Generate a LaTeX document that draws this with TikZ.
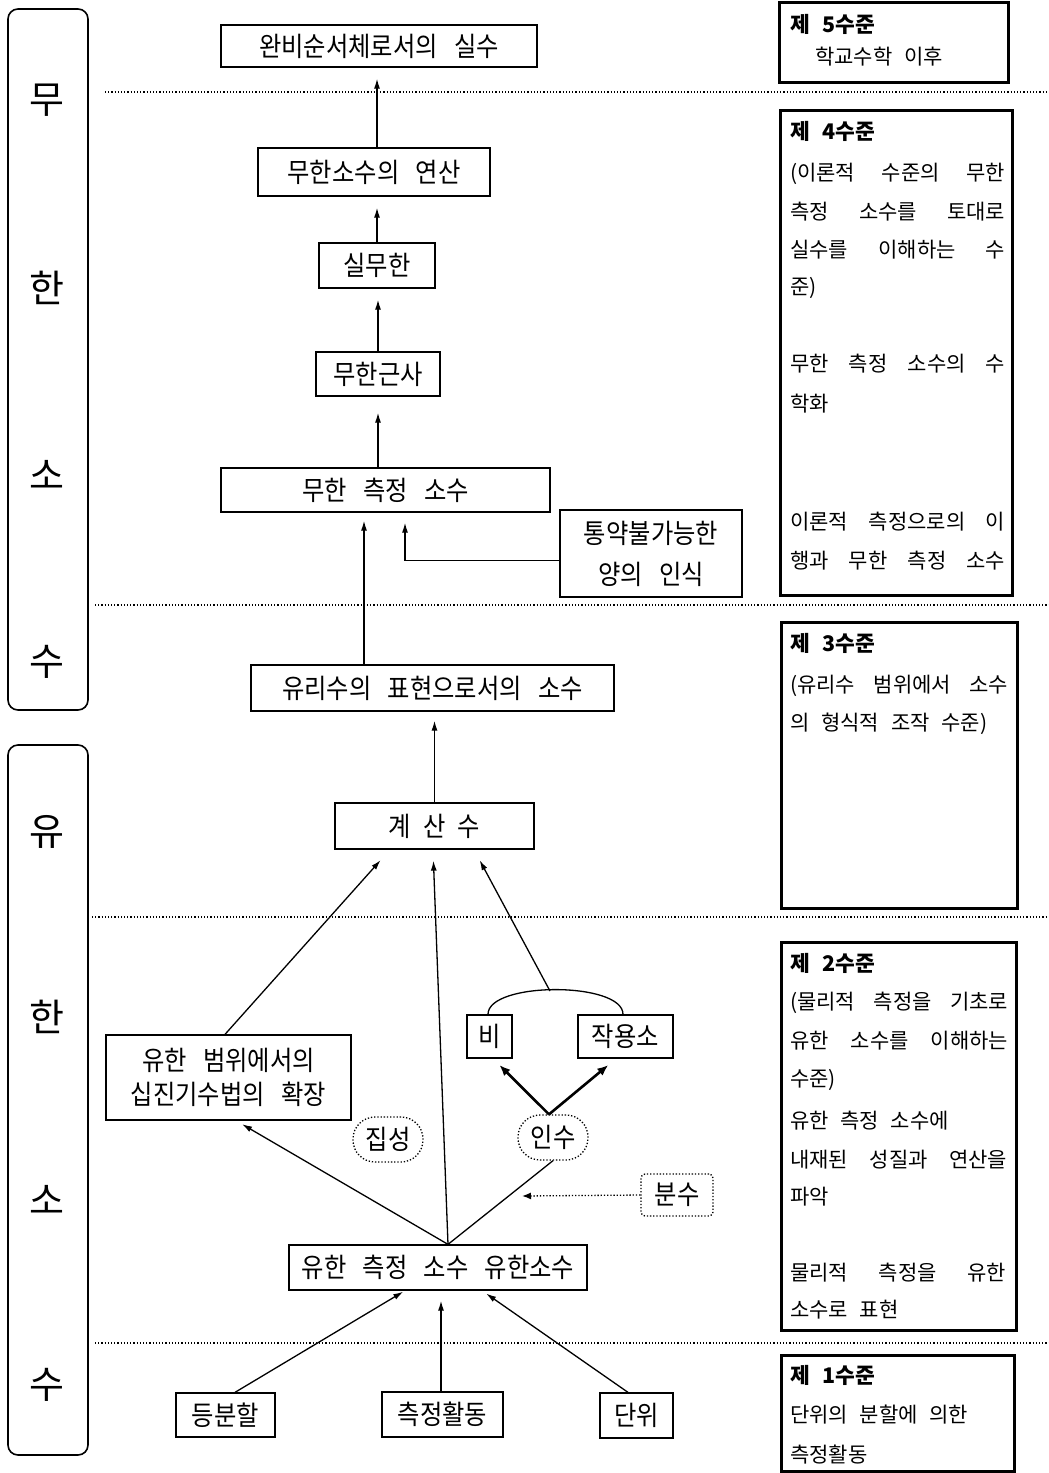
\documentclass[tikz,border=0pt]{standalone}
\usepackage{fontspec}
\setmainfont{Noto Sans CJK KR}[WordSpace=2.5]
\newfontfamily\nodefont[FakeStretch=0.9,WordSpace=3]{Noto Sans CJK KR}
\usetikzlibrary{arrows.meta,calc}
\begin{document}
\begin{tikzpicture}[x=1pt,y=-1pt,
  box/.style={draw, line width=1.3pt, inner sep=0pt, align=center,
    font=\nodefont\fontsize{27}{32}\selectfont},
  dotbox/.style={box, dash pattern=on 1.3pt off 1.9pt},
  lvl/.style={draw, line width=3pt, inner sep=0pt},
  lvltxt/.style={anchor=west, inner sep=0pt, font=\fontsize{21}{25}\selectfont},
  lvlhead/.style={anchor=west, inner sep=0pt, font=\bfseries\fontsize{21.5}{25}\selectfont},
  side/.style={inner sep=0pt, font=\fontsize{38}{40}\selectfont},
  bracket/.style={draw, line width=1.6pt, rounded corners=10pt, inner sep=0pt},
  sep/.style={line width=1.3pt, dash pattern=on 1.2pt off 2pt},
  arr/.style={line width=1.3pt, -{Latex[length=10pt,width=6pt]}},
  thickarr/.style={line width=2.6pt, -{Latex[length=11pt,width=9pt]}},
  dotarr/.style={line width=1.3pt, dash pattern=on 1.3pt off 1.9pt, -{Latex[length=9pt,width=7pt]}},
  ]
\useasboundingbox (0,0) rectangle (1049,1473);

% left brackets
\node[bracket, minimum width=80pt, minimum height=701pt] (brInf) at (48,359.5) {};
\node[bracket, minimum width=80pt, minimum height=710pt] (brFin) at (48,1100) {};
\node[side] (s1) at (47,100) {무};
\node[side] (s2) at (47,288) {한};
\node[side] (s3) at (47,475) {소};
\node[side] (s4) at (47,662) {수};
\node[side] (s5) at (47,832) {유};
\node[side] (s6) at (47,1017) {한};
\node[side] (s7) at (47,1200) {소};
\node[side] (s8) at (47,1385) {수};

% separators
\draw[sep] (105,92) -- (1049,92);
\draw[sep] (95,605) -- (1049,605);
\draw[sep] (92,917) -- (1049,917);
\draw[sep] (95,1343) -- (1049,1343);

% level boxes
\node[lvl, minimum width=229pt, minimum height=80pt] (lv5) at (893.5,42) {};
\node[lvl, minimum width=232pt, minimum height=485pt] (lv4) at (896,352.5) {};
\node[lvl, minimum width=236pt, minimum height=286pt] (lv3) at (899,765) {};
\node[lvl, minimum width=235pt, minimum height=388pt] (lv2) at (898.5,1136) {};
\node[lvl, minimum width=233pt, minimum height=116pt] (lv1) at (897.5,1413) {};

\node[lvlhead] (h5) at (790,24) {제 5수준};
\node[lvltxt] (t5a) at (815,57) {학교수학 이후};

\node[lvlhead] (h4) at (790,131) {제 4수준};
\node[lvltxt] (t4a) at (790,174) {\hbox to 215pt{(이론적\hfill 수준의\hfill 무한}};
\node[lvltxt] (t4b) at (790,212) {\hbox to 215pt{측정\hfill 소수를\hfill 토대로}};
\node[lvltxt] (t4c) at (790,250) {\hbox to 215pt{실수를\hfill 이해하는\hfill 수}};
\node[lvltxt] (t4d) at (790,288) {준)};
\node[lvltxt] (t4e) at (790,364) {\hbox to 215pt{무한\hfill 측정\hfill 소수의\hfill 수}};
\node[lvltxt] (t4f) at (790,404) {학화};
\node[lvltxt] (t4g) at (790,522) {\hbox to 215pt{이론적\hfill 측정으로의\hfill 이}};
\node[lvltxt] (t4h) at (790,561) {\hbox to 215pt{행과\hfill 무한\hfill 측정\hfill 소수}};

\node[lvlhead] (h3) at (790,643) {제 3수준};
\node[lvltxt] (t3a) at (790,686) {\hbox to 218pt{(유리수\hfill 범위에서\hfill 소수}};
\node[lvltxt] (t3b) at (790,724) {의 형식적 조작 수준)};

\node[lvlhead] (h2) at (790,963) {제 2수준};
\node[lvltxt] (t2a) at (790,1003) {\hbox to 218pt{(물리적\hfill 측정을\hfill 기초로}};
\node[lvltxt] (t2b) at (790,1041) {\hbox to 218pt{유한\hfill 소수를\hfill 이해하는}};
\node[lvltxt] (t2c) at (790,1080) {수준)};
\node[lvltxt] (t2d) at (790,1121) {유한 측정 소수에};
\node[lvltxt] (t2e) at (790,1160) {\hbox to 217pt{내재된\hfill 성질과\hfill 연산을}};
\node[lvltxt] (t2f) at (790,1197) {파악};
\node[lvltxt] (t2g) at (790,1273) {\hbox to 216pt{물리적\hfill 측정을\hfill 유한}};
\node[lvltxt] (t2h) at (790,1310) {소수로 표현};

\node[lvlhead] (h1) at (790,1375) {제 1수준};
\node[lvltxt] (t1a) at (790,1415) {단위의 분할에 의한};
\node[lvltxt] (t1b) at (790,1455) {측정활동};

% diagram nodes
\node[box, minimum width=316pt, minimum height=42pt] (A) at (379,46) {완비순서체로서의 실수};
\node[box, minimum width=232pt, minimum height=48pt] (B) at (374,172) {무한소수의 연산};
\node[box, minimum width=116pt, minimum height=45pt] (C) at (377,265.5) {실무한};
\node[box, minimum width=124pt, minimum height=44pt] (D) at (378,374) {무한근사};
\node[box, minimum width=329pt, minimum height=44pt] (E) at (385.5,490) {무한 측정 소수};
\node[box, minimum width=182pt, minimum height=87pt, font=\nodefont\fontsize{27}{41}\selectfont] (F) at (651,553.5) {통약불가능한\\양의 인식};
\node[box, minimum width=363pt, minimum height=46pt] (G) at (432.5,688) {유리수의 표현으로서의 소수};
\node[box, minimum width=199pt, minimum height=46pt] (H) at (434.5,826) {계\hspace{12pt}산\hspace{12pt}수};
\node[box, minimum width=245pt, minimum height=85pt, font=\nodefont\fontsize{27}{34}\selectfont] (I) at (228.5,1077.5) {유한 범위에서의\\십진기수법의 확장};
\node[box, minimum width=45pt, minimum height=43pt] (J) at (489.5,1036.5) {비};
\node[box, minimum width=95pt, minimum height=43pt] (K) at (625.5,1036.5) {작용소};
\node[dotbox, rounded corners=22pt, minimum width=70pt, minimum height=45pt] (L) at (388,1139.5) {집성};
\node[dotbox, rounded corners=22pt, minimum width=70pt, minimum height=45pt] (M) at (553,1137.5) {인수};
\node[dotbox, rounded corners=4pt, minimum width=72pt, minimum height=42pt] (N) at (677,1195) {분수};
\node[box, minimum width=298pt, minimum height=45pt] (O) at (438,1267.5) {유한 측정 소수 유한소수};
\node[box, minimum width=99pt, minimum height=44pt] (P) at (225.5,1415) {등분할};
\node[box, minimum width=121pt, minimum height=45pt] (Q) at (442.5,1414.5) {측정활동};
\node[box, minimum width=73pt, minimum height=45pt] (R) at (636.5,1415.5) {단위};

% connectors, upper part
\draw[arr, shorten >=11pt] ([xshift=3]B.north) -- ([xshift=3]B.north |- A.south);
\draw[arr, shorten >=11pt] (C.north) -- (C.north |- B.south);
\draw[arr, shorten >=11pt] (D.north) -- (D.north |- C.south);
\draw[arr, shorten >=16pt] ([xshift=-7.5]E.north) -- ([xshift=-7.5]E.north |- D.south);
\draw[arr, shorten >=8pt] ([xshift=-68.5]G.north) -- ([xshift=-68.5]G.north |- E.south);
\draw[arr, shorten >=10pt] ([yshift=-7]F.west) -| ([xshift=19.5]E.south);
\draw[arr, shorten >=9pt] (H.north) -- (H.north |- G.south);

% connectors, middle part
\coordinate (Otop) at ([xshift=10]O.north);
\coordinate (arcTop) at (550,991);
\coordinate (ntip) at (522,1196);
\draw[line width=1.3pt] ([xshift=-1.5]J.north) .. controls +(0,-33) and +(0,-33) .. ([xshift=-2.5]K.north);
\draw[arr, shorten >=14pt] ([xshift=-3.5]I.north) -- ([xshift=-44.5]H.south);
\draw[arr, shorten >=11pt] (Otop) -- ([xshift=-1.5]H.south);
\draw[arr, shorten >=12pt] (arcTop) -- ([xshift=39.5]H.south);
\draw[arr, shorten >=7pt] (Otop) -- ([xshift=7.5]I.south);
\draw[line width=1.3pt] (Otop) -- (M.south);
\draw[thickarr, shorten >=9pt] ([xshift=-4]M.north) -- ([xshift=3.5]J.south);
\draw[thickarr, shorten >=10pt] ([xshift=-4]M.north) -- ([xshift=-9.5]K.south);
\draw[dotarr] (N.west) -- (ntip);

% connectors, bottom
\draw[arr, shorten >=2pt] ([xshift=9.5]P.north) -- ([xshift=-33]O.south);
\draw[arr, shorten >=10pt] ([xshift=-1.5]Q.north) -- ([xshift=-1.5]Q.north |- O.south);
\draw[arr, shorten >=5pt] ([xshift=-8.5]R.north) -- ([xshift=44]O.south);
\end{tikzpicture}
\end{document}
